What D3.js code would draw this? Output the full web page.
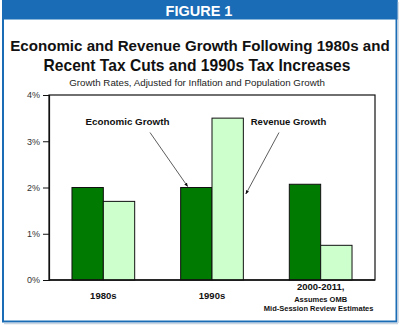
<!DOCTYPE html>
<html><head><meta charset="utf-8">
<script src="https://cdn.jsdelivr.net/npm/d3@7"></script>
<style>body{margin:0;background:#fff}svg{display:block}text{font-family:"Liberation Sans",Arial,sans-serif}</style>
</head><body>
<svg id="c" width="400" height="325"></svg>
<script>
const categories = ["1980s", "1990s", "2000-2011"];
const economicGrowth = [2.0, 2.0, 2.07];
const revenueGrowth = [1.7, 3.5, 0.75];
const yTicks = [0, 1, 2, 3, 4];
const seriesNames = ["Economic Growth", "Revenue Growth"];

const svg = d3.select("#c");
const blue = "#1a6cb6";

function fitText(sel, w) {
  const n = sel.node();
  const cur = n.getComputedTextLength();
  const fs = parseFloat(sel.attr("font-size"));
  sel.attr("font-size", fs * w / cur);
  return sel;
}

// frame
svg.append("rect").attr("x", 3).attr("y", 0).attr("width", 393.5).attr("height", 321.5)
  .attr("fill", "#fff").attr("stroke", blue).attr("stroke-width", 2);
svg.append("line").attr("x1", 398).attr("x2", 398).attr("y1", 2).attr("y2", 323).attr("stroke", "#c8d4e0").attr("stroke-width", 1.5);
svg.append("line").attr("x1", 4).attr("x2", 398).attr("y1", 323.5).attr("y2", 323.5).attr("stroke", "#c8d4e0").attr("stroke-width", 1.5);
svg.append("rect").attr("x", 2).attr("y", 0).attr("width", 395.5).attr("height", 19.5).attr("fill", blue);
svg.append("text").attr("x", 199).attr("y", 15.5).attr("text-anchor", "middle")
  .attr("fill", "#fff").attr("font-size", 14.5).attr("font-weight", "bold").text("FIGURE 1");

fitText(svg.append("text").attr("x", 200).attr("y", 50.5).attr("text-anchor", "middle")
  .attr("font-size", 16).attr("font-weight", "bold").attr("fill", "#111")
  .text("Economic and Revenue Growth Following 1980s and"), 380);
fitText(svg.append("text").attr("x", 197).attr("y", 70.5).attr("text-anchor", "middle")
  .attr("font-size", 16).attr("font-weight", "bold").attr("fill", "#111")
  .text("Recent Tax Cuts and 1990s Tax Increases"), 307);
fitText(svg.append("text").attr("x", 197).attr("y", 86).attr("text-anchor", "middle")
  .attr("font-size", 10).attr("fill", "#222")
  .text("Growth Rates, Adjusted for Inflation and Population Growth"), 256);

const m = {l: 49, r: 375, t: 95, b: 280};
const x = d3.scaleBand().domain(categories).range([m.l, m.r]).paddingInner(0.423).paddingOuter(0.2115);
const x1 = d3.scaleBand().domain(seriesNames).range([0, x.bandwidth()]);
const y = d3.scaleLinear().domain([0, 4]).range([m.b, m.t]);

// plot box
svg.append("rect").attr("x", m.l).attr("y", m.t).attr("width", m.r - m.l).attr("height", m.b - m.t)
  .attr("fill", "none").attr("stroke", "#111").attr("stroke-width", 1.2);

const data = categories.map((c, i) => ({c, vals: [economicGrowth[i], revenueGrowth[i]]}));
const colors = ["#007a00", "#ccffcc"];
const g = svg.append("g");
data.forEach(d => {
  d.vals.forEach((v, j) => {
    g.append("rect").attr("x", x(d.c) + x1(seriesNames[j])).attr("y", y(v))
      .attr("width", x1.bandwidth()).attr("height", y(0) - y(v))
      .attr("fill", colors[j]).attr("stroke", "#111").attr("stroke-width", 1);
  });
});

// y axis
const ya = svg.append("g").attr("transform", `translate(${m.l},0)`)
  .call(d3.axisLeft(y).tickValues(yTicks).tickFormat(d => d + "%").tickSize(6).tickPadding(3));
ya.select(".domain").attr("stroke", "#111").attr("stroke-width", 1.2);
ya.selectAll(".tick line").attr("stroke", "#111");
ya.selectAll("text").attr("font-size", 9).attr("fill", "#333")
  .style("font-family", '"Liberation Sans",Arial,sans-serif');

// bottom axis line
svg.append("line").attr("x1", m.l).attr("x2", m.r).attr("y1", y(0)).attr("y2", y(0)).attr("stroke", "#111").attr("stroke-width", 1.5);

// x labels
svg.append("text").attr("x", x(categories[0]) + x.bandwidth()/2).attr("y", 298.5).attr("text-anchor", "middle")
  .attr("font-size", 9.5).attr("font-weight", "bold").attr("fill", "#111").text(categories[0]);
svg.append("text").attr("x", x(categories[1]) + x.bandwidth()/2).attr("y", 298.5).attr("text-anchor", "middle")
  .attr("font-size", 9.5).attr("font-weight", "bold").attr("fill", "#111").text(categories[1]);
const cx3 = x(categories[2]) + x.bandwidth()/2;
svg.append("text").attr("x", cx3).attr("y", 290).attr("text-anchor", "middle")
  .attr("font-size", 9.5).attr("font-weight", "bold").attr("fill", "#111").text(categories[2] + ",");
svg.append("text").attr("x", cx3).attr("y", 301.5).attr("text-anchor", "middle")
  .attr("font-size", 7.5).attr("font-weight", "bold").attr("fill", "#111").text("Assumes OMB");
svg.append("text").attr("x", cx3 - 2).attr("y", 310.5).attr("text-anchor", "middle")
  .attr("font-size", 7.5).attr("font-weight", "bold").attr("fill", "#111").text("Mid-Session Review Estimates");

// annotations
svg.append("text").attr("x", 127.5).attr("y", 124.5).attr("text-anchor", "middle")
  .attr("font-size", 9.8).attr("font-weight", "bold").attr("fill", "#111").text(seriesNames[0]);
svg.append("text").attr("x", 288.5).attr("y", 124.5).attr("text-anchor", "middle")
  .attr("font-size", 9.5).attr("font-weight", "bold").attr("fill", "#111").text(seriesNames[1]);

const defs = svg.append("defs");
defs.append("marker").attr("id", "ah").attr("viewBox", "0 0 10 10").attr("refX", 9).attr("refY", 5)
  .attr("markerWidth", 5).attr("markerHeight", 5).attr("orient", "auto")
  .append("path").attr("d", "M0,1L10,5L0,9z").attr("fill", "#111");
svg.append("line").attr("x1", 150).attr("y1", 132.5)
  .attr("x2", x(categories[1]) + x1(seriesNames[0]) + 7).attr("y2", y(economicGrowth[1]) - 1)
  .attr("stroke", "#333").attr("stroke-width", 0.8).attr("marker-end", "url(#ah)");
svg.append("line").attr("x1", 279).attr("y1", 132.5)
  .attr("x2", x(categories[1]) + x1(seriesNames[1]) + x1.bandwidth() + 2.5).attr("y2", 194)
  .attr("stroke", "#333").attr("stroke-width", 0.8).attr("marker-end", "url(#ah)");
</script>
</body></html>
